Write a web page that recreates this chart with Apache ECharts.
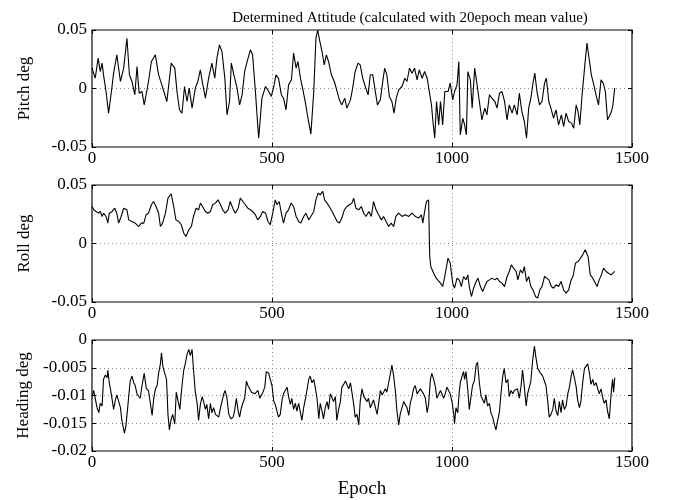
<!DOCTYPE html>
<html>
<head>
<meta charset="utf-8">
<script src="https://cdn.jsdelivr.net/npm/echarts@6/dist/echarts.min.js"></script>
<style>
html, body { margin: 0; padding: 0; background: #fff; }
#main { width: 681px; height: 500px; }
</style>
</head>
<body>
<div id="main"></div>
<script>
// values: [epoch, deg]
var pitch = [
    [0,0.0174],[5,0.0188],[9,0.0088],[17,0.0259],[23,0.0145],[28,0.0217],[32,0.0117],[39,-0.0026],[46,-0.0211],[54,-0.0026],
    [60,0.0131],[69,0.0288],[79,0.0060],[88,0.0174],[97,0.0430],[104,0.0117],[111,0.0060],[119,-0.0054],[125,0.0188],[131,-0.0040],
    [139,-0.0026],[145,-0.0140],[157,0.0060],[165,0.0231],[176,0.0288],[185,0.0117],[194,0.0031],[208,-0.0111],[220,0.0217],[230,0.0174],
    [236,-0.0026],[243,-0.0182],[250,-0.0211],[257,0.0017],[264,-0.0111],[270,0.0003],[278,-0.0168],[287,0.0003],[294,0.0060],[301,0.0160],
    [307,0.0046],[315,-0.0083],[324,0.0088],[333,0.0217],[341,0.0088],[347,0.0259],[354,0.0373],[361,0.0316],[369,0.0088],[375,-0.0225],
    [382,-0.0111],[387,0.0217],[394,0.0117],[403,0.0003],[410,-0.0140],[417,-0.0054],[424,0.0145],[431,0.0231],[440,0.0331],[446,0.0288],
    [454,-0.0026],[458,-0.0211],[463,-0.0425],[472,-0.0083],[482,0.0017],
    [491,-0.0026],[498,-0.0068],[505,0.0017],[511,0.0117],[518,0.0088],[526,-0.0054],[532,-0.0083],[539,-0.0182],[546,0.0031],[554,0.0074],
    [560,0.0302],[567,0.0174],[572,0.0231],[579,0.0088],[585,0.0003],[593,-0.0125],[600,-0.0254],[608,-0.0390],[616,-0.0026],[622,0.0430],
    [627,0.0500],[632,0.0416],[639,0.0316],[645,0.0202],[651,0.0288],[657,0.0231],[665,0.0117],[673,0.0060],[681,-0.0026],[687,-0.0097],
    [694,-0.0140],[702,-0.0083],[708,-0.0168],[718,-0.0097],[724,0.0003],[731,0.0145],[739,0.0217],[745,0.0202],[752,0.0088],[759,0.0017],
    [767,-0.0054],[773,0.0117],[780,0.0117],[787,-0.0026],[793,-0.0140],[801,-0.0097],[807,0.0046],[813,0.0174],[819,0.0117],[826,-0.0068],
    [833,-0.0111],[839,-0.0211],[845,-0.0083],[852,-0.0011],[861,0.0017],[869,0.0088],[875,0.0060],[882,0.0174],[889,0.0131],[896,0.0174],
    [903,0.0074],[909,0.0160],[917,0.0088],[924,0.0145],[931,0.0088],[937,-0.0026],[943,-0.0140],[947,-0.0282],[952,-0.0425],[957,-0.0111],
    [963,-0.0311],[968,-0.0111],[974,-0.0311],[980,-0.0026],
    [989,-0.0026],[995,0.0046],[1002,-0.0097],[1007,-0.0026],[1014,0.0031],[1019,0.0231],[1023,-0.0396],[1030,-0.0254],[1035,-0.0311],[1040,-0.0396],
    [1044,0.0145],[1051,0.0074],[1056,-0.0168],[1063,0.0174],[1069,0.0046],[1076,-0.0111],[1083,-0.0268],[1091,-0.0168],[1097,-0.0225],[1104,-0.0054],
    [1111,-0.0083],[1119,-0.0111],[1125,-0.0168],[1132,-0.0040],[1139,-0.0026],[1146,-0.0111],[1153,-0.0268],[1159,-0.0140],[1167,-0.0211],[1173,-0.0140],
    [1181,-0.0225],[1187,-0.0040],[1194,-0.0197],[1201,-0.0282],[1207,-0.0425],[1213,-0.0168],[1219,-0.0083],[1225,0.0046],[1230,0.0131],[1236,-0.0026],
    [1243,-0.0140],[1250,-0.0111],[1257,0.0046],[1262,0.0088],[1269,-0.0111],[1276,-0.0182],[1282,-0.0254],[1289,-0.0182],[1296,-0.0311],[1304,-0.0225],
    [1310,-0.0325],[1317,-0.0211],[1324,-0.0282],[1332,-0.0296],[1338,-0.0339],[1345,-0.0140],[1350,-0.0197],[1355,-0.0311],[1361,-0.0068],[1369,0.0202],
    [1375,0.0388],[1382,0.0231],[1387,0.0117],[1394,0.0031],[1400,-0.0054],[1407,-0.0140],[1414,0.0074],[1420,0.0046],[1426,-0.0026],[1432,-0.0268],
    [1437,-0.0239],[1443,-0.0197],[1447,-0.0140],[1452,0.0003]
];

var roll = [
    [0,0.0316],[5,0.0288],[11,0.0274],[17,0.0259],[23,0.0274],[28,0.0231],[32,0.0259],[39,0.0231],[44,0.0174],[48,0.0259],
    [56,0.0274],[63,0.0302],[69,0.0259],[74,0.0174],[81,0.0231],[88,0.0302],[93,0.0316],[97,0.0288],[102,0.0202],[111,0.0188],
    [120,0.0174],[130,0.0145],[137,0.0174],[144,0.0174],[150,0.0245],[157,0.0259],[165,0.0331],[171,0.0359],[178,0.0316],[185,0.0259],
    [190,0.0145],[196,0.0174],[204,0.0259],[211,0.0388],[220,0.0425],[227,0.0316],[233,0.0202],[241,0.0188],[248,0.0160],[255,0.0088],
    [261,0.0060],[269,0.0117],[276,0.0145],[282,0.0231],[289,0.0302],[296,0.0288],[301,0.0345],[307,0.0316],[315,0.0274],[322,0.0259],
    [329,0.0274],[335,0.0331],[343,0.0345],[350,0.0373],[357,0.0331],[363,0.0288],[370,0.0259],[378,0.0288],[384,0.0359],[391,0.0302],
    [398,0.0259],[406,0.0302],[412,0.0388],[419,0.0359],[426,0.0331],[433,0.0302],[440,0.0288],[446,0.0274],[454,0.0245],[460,0.0202],
    [468,0.0231],[474,0.0274],[482,0.0259],
    [489,0.0188],[495,0.0160],[502,0.0259],[509,0.0373],[514,0.0331],[520,0.0359],[526,0.0259],[532,0.0174],[539,0.0259],[546,0.0288],
    [553,0.0345],[560,0.0316],[567,0.0231],[574,0.0188],[580,0.0174],[588,0.0231],[594,0.0259],[602,0.0202],[608,0.0231],[616,0.0274],
    [622,0.0373],[628,0.0430],[634,0.0416],[641,0.0445],[646,0.0373],[653,0.0345],[659,0.0316],[667,0.0274],[674,0.0231],[681,0.0188],
    [687,0.0174],[694,0.0217],[701,0.0288],[708,0.0316],[715,0.0331],[722,0.0345],[727,0.0388],[733,0.0302],[741,0.0288],[748,0.0316],
    [755,0.0259],[761,0.0231],[769,0.0274],[776,0.0231],[782,0.0359],[789,0.0288],[796,0.0245],[804,0.0202],[810,0.0231],[817,0.0188],
    [824,0.0145],[831,0.0174],[838,0.0145],[844,0.0231],[852,0.0259],[861,0.0231],[870,0.0245],[880,0.0231],[889,0.0259],[898,0.0231],
    [907,0.0217],[915,0.0245],[919,0.0174],[924,0.0274],[929,0.0359],[935,0.0373],[938,-0.0100],[941,-0.0197],[949,-0.0254],[956,-0.0296],
    [961,-0.0282],[968,-0.0339],[974,-0.0368],[980,-0.0280],
    [989,-0.0125],[995,-0.0168],[1002,-0.0339],[1007,-0.0382],[1014,-0.0296],[1020,-0.0311],[1026,-0.0368],[1032,-0.0282],[1039,-0.0311],[1044,-0.0268],
    [1048,-0.0368],[1054,-0.0453],[1060,-0.0382],[1067,-0.0325],[1072,-0.0296],[1079,-0.0368],[1085,-0.0410],[1091,-0.0368],[1097,-0.0325],[1104,-0.0311],
    [1111,-0.0296],[1119,-0.0311],[1125,-0.0296],[1132,-0.0325],[1139,-0.0339],[1146,-0.0368],[1153,-0.0282],[1159,-0.0239],[1165,-0.0182],[1171,-0.0211],
    [1178,-0.0239],[1183,-0.0311],[1190,-0.0225],[1196,-0.0254],[1201,-0.0197],[1207,-0.0325],[1213,-0.0282],[1219,-0.0368],[1225,-0.0396],[1232,-0.0453],
    [1238,-0.0467],[1244,-0.0396],[1250,-0.0368],[1257,-0.0282],[1262,-0.0268],[1269,-0.0311],[1276,-0.0368],[1282,-0.0382],[1289,-0.0353],[1296,-0.0368],
    [1303,-0.0325],[1310,-0.0396],[1317,-0.0425],[1324,-0.0396],[1331,-0.0311],[1336,-0.0282],[1343,-0.0168],[1350,-0.0154],[1357,-0.0125],[1363,-0.0097],
    [1370,-0.0054],[1378,-0.0111],[1384,-0.0268],[1391,-0.0296],[1396,-0.0282],[1403,-0.0368],[1409,-0.0311],[1415,-0.0268],[1421,-0.0211],[1428,-0.0239],
    [1435,-0.0254],[1442,-0.0268],[1446,-0.0282],[1452,-0.0239]
];

var heading = [
    [0,-0.0102],[5,-0.0091],[9,-0.0105],[14,-0.0122],[19,-0.0131],[23,-0.0114],[28,-0.0119],[32,-0.0071],[37,-0.0063],[42,-0.0068],
    [44,-0.0054],[48,-0.0077],[54,-0.0099],[60,-0.0125],[65,-0.0108],[69,-0.0099],[74,-0.0097],[79,-0.0122],[83,-0.0145],[90,-0.0168],
    [94,-0.0156],[100,-0.0116],[106,-0.0074],[111,-0.0065],[116,-0.0077],[120,-0.0082],[125,-0.0097],[130,-0.0099],[134,-0.0105],[139,-0.0082],
    [145,-0.0060],[151,-0.0088],[157,-0.0091],[162,-0.0114],[167,-0.0136],[171,-0.0108],[176,-0.0088],[181,-0.0082],[185,-0.0060],[190,-0.0043],
    [193,-0.0023],[197,-0.0048],[202,-0.0060],[207,-0.0071],[211,-0.0134],[215,-0.0162],[219,-0.0145],[224,-0.0134],[230,-0.0151],[234,-0.0094],
    [239,-0.0097],[244,-0.0125],[250,-0.0082],[255,-0.0054],[259,-0.0043],[264,-0.0026],[269,-0.0017],[273,-0.0028],[278,-0.0017],[282,-0.0054],
    [287,-0.0094],[292,-0.0114],[296,-0.0145],[301,-0.0116],[306,-0.0102],[310,-0.0111],[315,-0.0125],[319,-0.0116],[324,-0.0142],[329,-0.0114],
    [333,-0.0131],[338,-0.0122],[343,-0.0134],[347,-0.0131],[352,-0.0139],[357,-0.0122],[361,-0.0111],[366,-0.0097],[370,-0.0091],[375,-0.0105],
    [380,-0.0134],[386,-0.0142],[392,-0.0139],[396,-0.0128],[401,-0.0105],[406,-0.0128],[410,-0.0139],[415,-0.0122],[419,-0.0114],[424,-0.0105],
    [429,-0.0074],[433,-0.0082],[438,-0.0088],[443,-0.0094],[447,-0.0091],[452,-0.0097],[457,-0.0099],[461,-0.0091],[466,-0.0105],[470,-0.0108],
    [475,-0.0094],[480,-0.0085],[484,-0.0057],[489,-0.0054],
    [491,-0.0060],[495,-0.0071],[500,-0.0082],[505,-0.0111],[509,-0.0116],[514,-0.0114],[518,-0.0139],[523,-0.0134],[528,-0.0108],[532,-0.0097],
    [537,-0.0099],[542,-0.0085],[546,-0.0102],[551,-0.0116],[555,-0.0105],[560,-0.0125],[565,-0.0114],[569,-0.0128],[574,-0.0114],[579,-0.0131],
    [583,-0.0145],[588,-0.0122],[593,-0.0105],[597,-0.0091],[602,-0.0071],[606,-0.0065],[611,-0.0077],[616,-0.0071],[620,-0.0085],[625,-0.0105],
    [630,-0.0142],[634,-0.0114],[639,-0.0128],[643,-0.0142],[648,-0.0122],[653,-0.0111],[657,-0.0125],[662,-0.0097],[667,-0.0099],[671,-0.0111],
    [676,-0.0102],[680,-0.0145],[685,-0.0125],[690,-0.0111],[694,-0.0085],[699,-0.0080],[704,-0.0074],[708,-0.0074],[713,-0.0088],[718,-0.0077],
    [722,-0.0074],[727,-0.0116],[731,-0.0139],[736,-0.0134],[741,-0.0153],[745,-0.0111],[750,-0.0088],[755,-0.0102],[759,-0.0099],[764,-0.0111],
    [768,-0.0105],[773,-0.0122],[778,-0.0119],[782,-0.0108],[787,-0.0111],[792,-0.0134],[796,-0.0116],[801,-0.0091],[806,-0.0099],[810,-0.0099],
    [815,-0.0088],[819,-0.0094],[824,-0.0077],[829,-0.0060],[833,-0.0045],[838,-0.0065],[843,-0.0094],[847,-0.0128],[852,-0.0153],[856,-0.0134],
    [861,-0.0122],[866,-0.0111],[870,-0.0116],[875,-0.0122],[880,-0.0136],[884,-0.0114],[889,-0.0102],[893,-0.0088],[898,-0.0082],[903,-0.0097],
    [907,-0.0099],[912,-0.0088],[917,-0.0085],[921,-0.0097],[926,-0.0105],[931,-0.0131],[935,-0.0116],[940,-0.0071],[944,-0.0060],[949,-0.0071],
    [954,-0.0085],[958,-0.0105],[963,-0.0108],[968,-0.0091],[972,-0.0094],[977,-0.0105],[981,-0.0097],
    [986,-0.0085],[991,-0.0088],[995,-0.0097],[1000,-0.0111],[1005,-0.0134],[1007,-0.0151],[1011,-0.0122],[1016,-0.0131],[1020,-0.0094],[1023,-0.0077],
    [1028,-0.0065],[1032,-0.0057],[1035,-0.0071],[1039,-0.0057],[1044,-0.0091],[1048,-0.0125],[1053,-0.0122],[1057,-0.0082],[1062,-0.0074],[1067,-0.0045],
    [1071,-0.0040],[1076,-0.0077],[1081,-0.0102],[1085,-0.0105],[1090,-0.0114],[1094,-0.0099],[1099,-0.0119],[1104,-0.0114],[1108,-0.0131],[1113,-0.0139],
    [1118,-0.0153],[1122,-0.0162],[1127,-0.0145],[1132,-0.0128],[1136,-0.0097],[1141,-0.0065],[1145,-0.0051],[1150,-0.0077],[1155,-0.0071],[1159,-0.0102],
    [1164,-0.0091],[1169,-0.0097],[1173,-0.0091],[1178,-0.0094],[1182,-0.0088],[1187,-0.0105],[1192,-0.0082],[1196,-0.0054],[1201,-0.0085],[1206,-0.0119],
    [1210,-0.0097],[1215,-0.0099],[1219,-0.0074],[1224,-0.0037],[1229,-0.0011],[1233,-0.0031],[1238,-0.0051],[1243,-0.0057],[1247,-0.0054],[1252,-0.0065],
    [1257,-0.0068],[1261,-0.0082],[1266,-0.0111],[1270,-0.0139],[1275,-0.0134],[1280,-0.0125],[1284,-0.0105],[1289,-0.0128],[1294,-0.0136],[1298,-0.0111],
    [1303,-0.0131],[1307,-0.0108],[1312,-0.0125],[1317,-0.0119],[1321,-0.0099],[1326,-0.0085],[1331,-0.0065],[1335,-0.0054],[1340,-0.0068],[1345,-0.0085],
    [1349,-0.0108],[1354,-0.0122],[1358,-0.0111],[1363,-0.0077],[1368,-0.0051],[1372,-0.0048],[1377,-0.0043],[1382,-0.0060],[1386,-0.0080],[1391,-0.0071],
    [1395,-0.0082],[1400,-0.0077],[1405,-0.0088],[1409,-0.0097],[1414,-0.0088],[1419,-0.0105],[1423,-0.0114],[1428,-0.0108],[1432,-0.0128],[1437,-0.0142],
    [1442,-0.0097],[1446,-0.0071],[1449,-0.0094],[1452,-0.0068]
];

var titleText = 'Determined Attitude (calculated with 20epoch mean value)';
var yNames = ['Pitch deg', 'Roll deg', 'Heading deg'];
var yRanges = [[-0.05, 0.05, 0.05], [-0.05, 0.05, 0.05], [-0.02, 0, 0.005]];
var xRange = [0, 1500, 500];
var xName = 'Epoch';

var font = 'Liberation Serif';
var gridTops = [30, 185, 340];

// plain numbers, no thousands separator
var fmt = function (v) {
    return String(parseFloat(v.toFixed(4)));
};

var tickStyle = { inside: true, length: 4, lineStyle: { color: '#000' } };
var dotted = { show: true, lineStyle: { color: '#888', type: [1, 3], width: 1 } };

var makeOption = function () {
    var grids = [], xAxes = [], yAxes = [], series = [];
    var datas = [pitch, roll, heading];
    for (var i = 0; i < 3; i++) {
        grids.push({
            left: 92, top: gridTops[i], width: 540, height: 117,
            show: true, borderColor: '#000', borderWidth: 1.2, backgroundColor: 'transparent'
        });
        xAxes.push({
            type: 'value', gridIndex: i, position: 'bottom', min: xRange[0], max: xRange[1], interval: xRange[2],
            name: i == 2 ? xName : '', nameLocation: 'middle', nameGap: 29,
            nameTextStyle: { fontFamily: font, fontSize: 19, color: '#000' },
            axisLine: { show: false, onZero: false },
            axisTick: tickStyle,
            axisLabel: { fontFamily: font, fontSize: 17, color: '#000', margin: 3, formatter: fmt },
            splitLine: dotted
        });
        xAxes.push({
            type: 'value', gridIndex: i, position: 'top', min: xRange[0], max: xRange[1], interval: xRange[2],
            axisLine: { show: false, onZero: false },
            axisTick: tickStyle,
            axisLabel: { show: false }, splitLine: { show: false }
        });
        yAxes.push({
            type: 'value', gridIndex: i, position: 'left', min: yRanges[i][0], max: yRanges[i][1], interval: yRanges[i][2],
            name: yNames[i], nameLocation: 'middle', nameGap: 59,
            nameTextStyle: { fontFamily: font, fontSize: 17, color: '#000' },
            axisLine: { show: false, onZero: false },
            axisTick: tickStyle,
            axisLabel: { fontFamily: font, fontSize: 17, color: '#000', margin: 5, formatter: fmt },
            splitLine: dotted
        });
        yAxes.push({
            type: 'value', gridIndex: i, position: 'right', min: yRanges[i][0], max: yRanges[i][1], interval: yRanges[i][2],
            axisLine: { show: false, onZero: false },
            axisTick: tickStyle,
            axisLabel: { show: false }, splitLine: { show: false }
        });
        series.push({
            type: 'line', xAxisIndex: i * 2, yAxisIndex: i * 2, data: datas[i],
            showSymbol: false, symbol: 'none', clip: true,
            lineStyle: { color: '#000', width: 1.1 }
        });
    }
    return {
        backgroundColor: '#fff',
        animation: false,
        title: {
            text: titleText, left: 405, top: 6, textAlign: 'center',
            textStyle: { fontFamily: font, fontSize: 15, fontWeight: 'normal', color: '#000' }
        },
        grid: grids, xAxis: xAxes, yAxis: yAxes, series: series
    };
};

var myChart = echarts.init(document.getElementById('main'), null, { renderer: 'canvas' });
myChart.setOption(makeOption());
</script>
</body>
</html>
